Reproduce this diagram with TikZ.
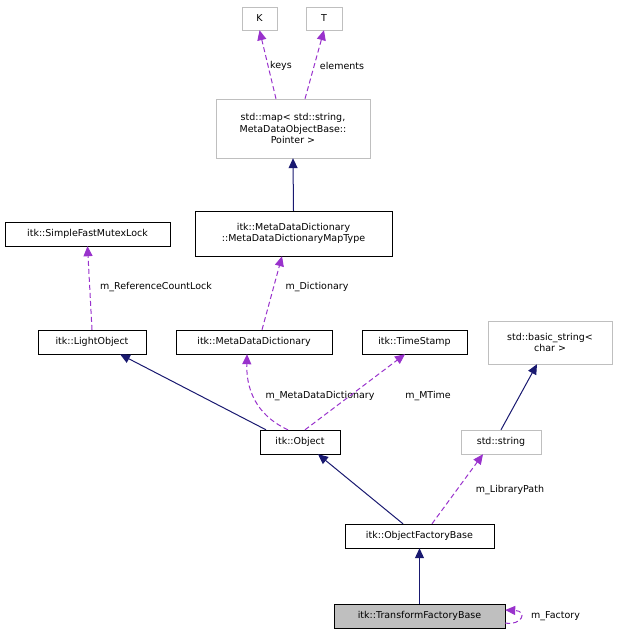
\documentclass[tikz,border=0pt]{standalone}
\usepackage{fontspec}
\setmainfont{DejaVu Sans}
\usetikzlibrary{arrows.meta}
\definecolor{navy}{RGB}{25,25,112}
\definecolor{orch}{RGB}{153,50,204}
\definecolor{lgray}{RGB}{191,191,191}
\begin{document}
\begin{tikzpicture}[x=1pt,y=-1pt,
  box/.style={draw=black,fill=white,inner sep=0pt,font=\fontsize{9.5}{11.5}\selectfont,align=center},
  gbox/.style={box,draw=lgray},
  inh/.style={draw=navy,line width=1pt,-{Triangle[length=10pt,width=9pt,fill=navy]}},
  use/.style={draw=orch,line width=1pt,dash pattern=on 5pt off 3pt,-{Triangle[length=10pt,width=9pt,fill=orch]}},
  lab/.style={font=\fontsize{9.5}{11}\selectfont,inner sep=1pt}]
\useasboundingbox (0,0) rectangle (617,637);
\node[gbox,minimum width=35,minimum height=23] (K) at (259.5,18.5) {K};
\node[gbox,minimum width=36,minimum height=23] (T) at (324,18.5) {T};
\node[gbox,minimum width=154,minimum height=59] (map) at (293,128.5) {std::map< std::string,\\MetaDataObjectBase::\\Pointer >};
\node[box,minimum width=197,minimum height=45] (mt) at (293.5,233.5) {itk::MetaDataDictionary\\::MetaDataDictionaryMapType};
\node[box,minimum width=165,minimum height=24] (sf) at (87.5,234) {itk::SimpleFastMutexLock};
\node[box,minimum width=108,minimum height=24] (lo) at (92,342) {itk::LightObject};
\node[box,minimum width=156,minimum height=24] (md) at (254,342) {itk::MetaDataDictionary};
\node[box,minimum width=105,minimum height=24] (ts) at (414.5,342) {itk::TimeStamp};
\node[gbox,minimum width=124,minimum height=43] (bs) at (550,342.5) {std::basic\_string<\\char >};
\node[box,minimum width=80,minimum height=24] (ob) at (300,442) {itk::Object};
\node[gbox,minimum width=80,minimum height=24] (ss) at (501,442) {std::string};
\node[box,minimum width=149,minimum height=24] (of) at (419.5,536) {itk::ObjectFactoryBase};
\node[box,fill=lgray,minimum width=171,minimum height=24] (tf) at (419.5,616) {itk::TransformFactoryBase};

\draw[use] (map.north -| 276,0) -- (K.south);
\node[lab] (lk) at (281,66) {keys};
\draw[use] (map.north -| 305,0) -- (T.south);
\node[lab] (le) at (342,66) {elements};
\draw[inh] (mt.north) -- (map.south);
\draw[use] (md.north -| 262,0) -- (mt.south -| 282,0);
\node[lab] (ld) at (317,287) {m\_Dictionary};
\draw[use] (lo.north) -- (sf.south);
\node[lab] (lr) at (156,287) {m\_ReferenceCountLock};
\draw[inh] (ob.north -| 266,0) -- (lo.south -| 120,0);
\draw[use] (ob.north -| 288,0) .. controls (262,418) and (246,396) .. (md.south -| 247,0);
\node[lab] (lm) at (320,396) {m\_MetaDataDictionary};
\draw[use] (ob.north -| 305,0) -- (ts.south -| 405,0);
\node[lab] (lt) at (428,396) {m\_MTime};
\draw[inh] (ss.north) -- (bs.south -| 537,0);
\draw[inh] (of.north -| 403,0) -- (ob.south -| 318,0);
\draw[use] (of.north -| 432,0) -- (ss.south -| 483,0);
\node[lab] (ll) at (510,490) {m\_LibraryPath};
\draw[inh] (tf.north) -- (of.south);
\draw[use] (tf.east |- 0,623) .. controls (522,626) and (528,611) .. (tf.east |- 0,610);
\node[lab,anchor=west] (mf) at (530,616) {m\_Factory};
\end{tikzpicture}
\end{document}
